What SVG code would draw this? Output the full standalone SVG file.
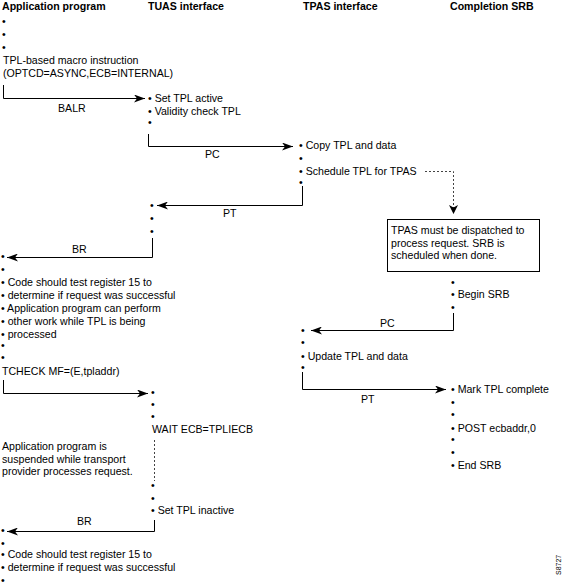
<svg xmlns="http://www.w3.org/2000/svg" width="565" height="588" viewBox="0 0 565 588">
<style>
text{font-family:"Liberation Sans",Arial,sans-serif;font-size:10.6px;fill:#000}
.h{font-weight:bold}
.ln{stroke:#000;stroke-width:1;fill:none}
.ds{stroke:#444;stroke-width:1;fill:none;stroke-dasharray:2,2}
.box{fill:#fff;stroke:#000;stroke-width:1}
</style>
<defs>
<marker id="ah" markerUnits="userSpaceOnUse" markerWidth="12" markerHeight="8" refX="11" refY="4" orient="auto">
<path d="M0,0 L11,4 L0,8 L3,4 Z" fill="#000"/>
</marker>
</defs>
<rect width="565" height="588" fill="#fff"/>
<g id="headers">
<text class="h" x="2" y="10">Application program</text>
<text class="h" x="148" y="10">TUAS interface</text>
<text class="h" x="303" y="10">TPAS interface</text>
<text class="h" x="450" y="10">Completion SRB</text>
</g>
<g id="app1">
<text x="2" y="25">•</text>
<text x="2" y="38">•</text>
<text x="2" y="51">•</text>
<text x="3" y="64">TPL-based macro instruction</text>
<text x="3" y="77">(OPTCD=ASYNC,ECB=INTERNAL)</text>
</g>
<g id="tuas1">
<text x="148" y="102">• Set TPL active</text>
<text x="148" y="115">• Validity check TPL</text>
<text x="148" y="126">•</text>
</g>
<g id="tpas1">
<text x="299" y="149">• Copy TPL and data</text>
<text x="299" y="162">•</text>
<text x="299" y="175">• Schedule TPL for TPAS</text>
<text x="299" y="186">•</text>
</g>
<g id="tuas2">
<text x="150" y="209">•</text>
<text x="150" y="222">•</text>
<text x="150" y="235">•</text>
</g>
<g id="note1">
<rect class="box" x="387.5" y="219.5" width="152" height="52"/>
<text x="391" y="234">TPAS must be dispatched to</text>
<text x="391" y="247">process request. SRB is</text>
<text x="391" y="259">scheduled when done.</text>
</g>
<g id="app2">
<text x="1" y="260">•</text>
<text x="1" y="273">•</text>
<text x="1" y="286">• Code should test register 15 to</text>
<text x="1" y="299">• determine if request was successful</text>
<text x="1" y="312">• Application program can perform</text>
<text x="1" y="325">• other work while TPL is being</text>
<text x="1" y="338">• processed</text>
<text x="1" y="349">•</text>
<text x="1" y="361">•</text>
<text x="2" y="375">TCHECK MF=(E,tpladdr)</text>
</g>
<g id="srb1">
<text x="451" y="286">•</text>
<text x="451" y="298">• Begin SRB</text>
<text x="451" y="311">•</text>
</g>
<g id="tpas2">
<text x="301" y="334">•</text>
<text x="301" y="346">•</text>
<text x="301" y="360">• Update TPL and data</text>
<text x="301" y="371">•</text>
</g>
<g id="srb2">
<text x="451" y="393">• Mark TPL complete</text>
<text x="451" y="406">•</text>
<text x="451" y="418">•</text>
<text x="451" y="432">• POST ecbaddr,0</text>
<text x="451" y="443">•</text>
<text x="451" y="456">•</text>
<text x="451" y="469">• End SRB</text>
</g>
<g id="tuas3">
<text x="151" y="396">•</text>
<text x="151" y="408">•</text>
<text x="151" y="420">•</text>
<text x="152" y="433">WAIT ECB=TPLIECB</text>
<text x="151" y="489">•</text>
<text x="151" y="502">•</text>
<text x="151" y="514">• Set TPL inactive</text>
</g>
<g id="note2">
<text x="2" y="450">Application program is</text>
<text x="2" y="463">suspended while transport</text>
<text x="2" y="475">provider processes request.</text>
</g>
<g id="app3">
<text x="1" y="534">•</text>
<text x="1" y="547">•</text>
<text x="1" y="558">• Code should test register 15 to</text>
<text x="1" y="571">• determine if request was successful</text>
<text x="1" y="584">•</text>
</g>
<g id="connectors">
<polyline class="ln" points="3.5,85 3.5,98.5 145,98.5" marker-end="url(#ah)"/>
<text x="58" y="112">BALR</text>
<polyline class="ln" points="148.5,134 148.5,146.5 293,146.5" marker-end="url(#ah)"/>
<text x="205" y="158">PC</text>
<polyline class="ln" points="302.5,186 302.5,205.5 157,205.5" marker-end="url(#ah)"/>
<text x="223" y="217">PT</text>
<polyline class="ln" points="152.5,238 152.5,257.5 7,257.5" marker-end="url(#ah)"/>
<text x="72" y="253">BR</text>
<polyline class="ds" points="425,171.5 453.5,171.5 453.5,208"/>
<path d="M449,205 L453.5,214 L458,205 L453.5,207.5 Z" fill="#000"/>
<polyline class="ln" points="453.5,313 453.5,330.5 311,330.5" marker-end="url(#ah)"/>
<text x="380" y="327">PC</text>
<polyline class="ln" points="302.5,372 302.5,389.5 446,389.5" marker-end="url(#ah)"/>
<text x="361" y="403">PT</text>
<polyline class="ln" points="3.5,380 3.5,393.5 148,393.5" marker-end="url(#ah)"/>
<line class="ds" x1="154.5" y1="440" x2="154.5" y2="481"/>
<polyline class="ln" points="154.5,520 154.5,531.5 7,531.5" marker-end="url(#ah)"/>
<text x="77" y="525">BR</text>
</g>
<text x="561" y="575" transform="rotate(-90 561 575)" style="font-size:7px">S8727</text>
</svg>
